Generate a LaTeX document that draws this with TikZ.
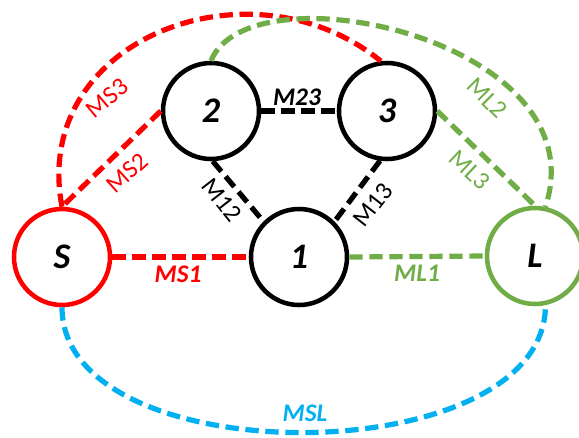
\documentclass[tikz,border=0pt]{standalone}
\usepackage{fontspec}
\setmainfont{Carlito}
\usetikzlibrary{positioning}

\definecolor{msred}{HTML}{FF0000}
\definecolor{mlgreen}{HTML}{70AD47}
\definecolor{mslblue}{HTML}{00B0F0}

\tikzset{
  bus/.style={circle, draw, line width=3.4pt, minimum size=72pt, inner sep=0pt,
    font=\fontsize{27}{30}\selectfont\bfseries\itshape},
  link/.style={line width=3.9pt, dash pattern=on 10pt off 5pt},
  lbl/.style={inner sep=0pt, font=\fontsize{19}{21}\selectfont},
  lblbi/.style={inner sep=0pt, font=\fontsize{19}{21}\selectfont\bfseries\itshape},
}

\begin{document}
\begin{tikzpicture}[x=0.75pt, y=-0.75pt]
    \useasboundingbox (0,0) rectangle (579,437);

    \node[bus] (1) at (299,257) {1};
    \node[bus] (2) at (211,111) {2};
    \node[bus] (3) at (387,111) {3};
    \node[bus, draw=msred] (S) at (62,257) {S};
    \node[bus, draw=mlgreen] (L) at (535,256) {L};

    \draw[link, msred] (S.east) -- (1.west);
    \draw[link, msred] (2.west) -- (S.north);
    \draw[link, msred] (S.north) .. controls (30,40) and (250,-45) .. (3.97);
    \draw[link, mlgreen] (1.east) -- (L.west);
    \draw[link, mlgreen] (3.east) -- (L.north);
    \draw[link, mlgreen] (2.north) .. controls (250,-35) and (600,40) .. (L.78);
    \draw[link] (2.east) -- (3.west);
    \draw[link] (2.-88) -- (1.135);
    \draw[link] (3.-98) -- (1.45);
    \draw[link, mslblue] (S.south) to[out=-90, in=-90, looseness=0.89] (L.-78);

    \node[lblbi, msred] (lMS1) at (178,274) {MS1};
    \node[lbl, msred, rotate=42] (lMS2) at (127,173) {MS2};
    \node[lbl, msred, rotate=40] (lMS3) at (107,98) {MS3};
    \node[lblbi, mlgreen] (lML1) at (417,273) {ML1};
    \node[lbl, mlgreen, rotate=-45] (lML2) at (487,98) {ML2};
    \node[lbl, mlgreen, rotate=-43] (lML3) at (470,170) {ML3};
    \node[lblbi] (lM23) at (297,97) {M23};
    \node[lbl, rotate=-52] (lM12) at (222,200) {M12};
    \node[lbl, rotate=52] (lM13) at (373,205) {M13};
    \node[lblbi, mslblue] (lMSL) at (305,413) {MSL};
\end{tikzpicture}
\end{document}
